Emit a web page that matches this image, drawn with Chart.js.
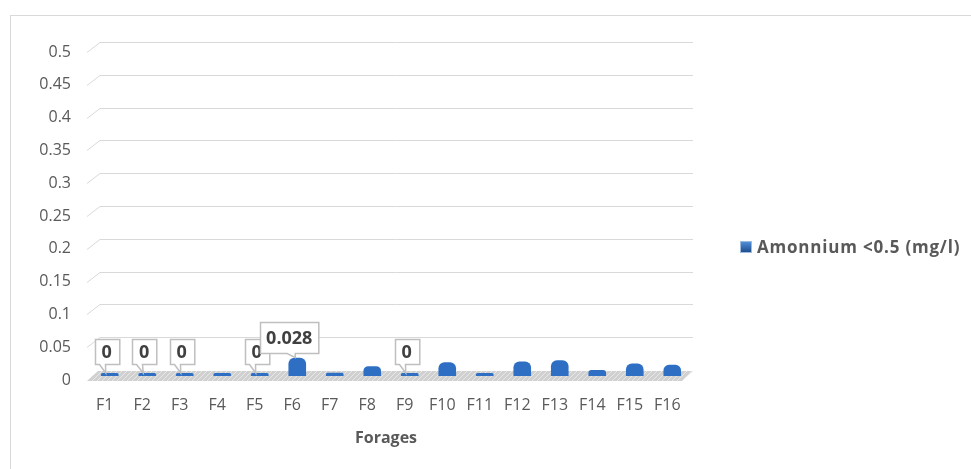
<!DOCTYPE html>
<html>
<head>
<meta charset="utf-8">
<script src="https://cdn.jsdelivr.net/npm/chart.js@4"></script>
<style>
    html, body { margin: 0; padding: 0; background: #fff; }
    #wrap { position: relative; width: 971px; height: 469px; overflow: hidden; }
    #frame { position: absolute; left: 10px; top: 15px; width: 980px; height: 480px;
             border-left: 1px solid #d9d9d9; border-top: 1px solid #d9d9d9; }
    canvas { position: absolute; left: 0; top: 0; }
    #legend { position: absolute; left: 740px; top: 235px; font: bold 17px 'Open Sans', sans-serif;
              letter-spacing: 0.8px; color: #595959; white-space: nowrap; display: flex; align-items: center; }
    #legend span.box { display: inline-block; width: 10px; height: 10px; margin-right: 5px;
              background: linear-gradient(#4f8ed8, #1f4e8c); border: 1px solid #9dbbe0; }
</style>
</head>
<body>
<div id="wrap">
    <div id="frame"></div>
    <canvas id="c" width="971" height="469"></canvas>
    <div id="legend"><span class="box"></span>Amonnium &lt;0.5 (mg/l)</div>
</div>
<script>
// Données
const forages = ['F1', 'F2', 'F3', 'F4', 'F5', 'F6', 'F7', 'F8',
                 'F9', 'F10', 'F11', 'F12', 'F13', 'F14', 'F15', 'F16'];
const amonnium = [0, 0, 0, 0.003, 0, 0.028, 0.005, 0.015,
                  0, 0.021, 0.004, 0.022, 0.024, 0.009, 0.019, 0.017];
const labelledPoints = [0, 1, 2, 4, 5, 8];
const seriesName = 'Amonnium <0.5 (mg/l)';
const axisTitle = 'Forages';

const FONT = "'Open Sans', sans-serif";
const GREY = '#595959';

// murs 3D: lignes de grille avec petite diagonale à gauche
const wallPlugin = {
    id: 'wall',
    beforeDatasetsDraw(chart) {
        const { ctx, chartArea } = chart;
        const y = chart.scales.y;
        ctx.save();
        ctx.strokeStyle = '#d9d9d9';
        ctx.lineWidth = 1;
        y.ticks.forEach(t => {
            if (t.value === 0) return;
            const py = Math.round(y.getPixelForValue(t.value)) + 0.5;
            ctx.beginPath();
            ctx.moveTo(chartArea.left + 1, py);
            ctx.lineTo(chartArea.left + 14, py - 10);
            ctx.lineTo(chartArea.right + 7, py - 10);
            ctx.stroke();
        });
        // plancher gris
        const y0 = y.getPixelForValue(0) + 1;
        const l = chartArea.left + 1, r = chartArea.right - 4;
        ctx.beginPath();
        ctx.moveTo(l, y0);
        ctx.lineTo(r, y0);
        ctx.lineTo(r + 11, y0 - 10);
        ctx.lineTo(l + 11, y0 - 10);
        ctx.closePath();
        ctx.fillStyle = '#d0d0d0';
        ctx.fill();
        ctx.clip();
        ctx.strokeStyle = '#e8e8e8';
        for (let x = l - 20; x < r + 20; x += 5) {
            ctx.beginPath();
            ctx.moveTo(x, y0);
            ctx.lineTo(x + 10, y0 - 10);
            ctx.stroke();
        }
        ctx.restore();
    },
    beforeDatasetDraw(chart) {
        chart.ctx.save();
        chart.ctx.translate(5, -4);
    },
    afterDatasetDraw(chart) {
        chart.ctx.restore();
    }
};

// étiquettes de données en bulle
const calloutPlugin = {
    id: 'callout',
    afterDatasetsDraw(chart) {
        const { ctx } = chart;
        const meta = chart.getDatasetMeta(0);
        ctx.save();
        ctx.font = 'bold 18px ' + FONT;
        ctx.textAlign = 'center';
        ctx.textBaseline = 'middle';
        labelledPoints.forEach(i => {
            const bar = meta.data[i];
            const v = amonnium[i];
            const txt = String(v);
            const w = ctx.measureText(txt).width + (v > 0 ? 12 : 14);
            const h = v > 0 ? 31 : 25;
            const cx = v > 0 ? bar.x - 3 : bar.x + 2;
            const bottom = v > 0 ? bar.y - 9 : bar.y - 13;
            const left = Math.round(cx - w / 2) + 0.5, top = Math.round(bottom - h) + 0.5;
            const b = top + h;
            const tipX = bar.x + (v > 0 ? 3 : 1), tipY = bar.y - 4;
            ctx.beginPath();
            ctx.moveTo(left, top);
            ctx.lineTo(left + w, top);
            ctx.lineTo(left + w, b);
            if (v > 0) {
                ctx.lineTo(cx + 6, b);
                ctx.lineTo(tipX, tipY);
                ctx.lineTo(cx - 2, b);
            } else {
                ctx.lineTo(left + 10, b);
                ctx.lineTo(tipX, tipY);
                ctx.lineTo(left + 4, b);
            }
            ctx.lineTo(left, b);
            ctx.closePath();
            ctx.fillStyle = '#fff';
            ctx.fill();
            ctx.strokeStyle = '#bfbfbf';
            ctx.lineWidth = 1.5;
            ctx.stroke();
            ctx.fillStyle = '#404040';
            ctx.fillText(txt, cx, top + h / 2 + 1);
        });
        ctx.restore();
    }
};

function barColor(context) {
    const el = context.element;
    if (!el || !Number.isFinite(el.x)) return '#2e6fc4';
    const w = 17;
    const g = context.chart.ctx.createLinearGradient(el.x - w / 2, 0, el.x + w / 2, 0);
    g.addColorStop(0, '#2a62ad');
    g.addColorStop(0.45, '#3b7fd4');
    g.addColorStop(1, '#1d4f92');
    return g;
}

const ctx = document.getElementById('c').getContext('2d');
new Chart(ctx, {
    type: 'bar',
    data: {
        labels: forages,
        datasets: [{
            label: seriesName,
            data: amonnium,
            backgroundColor: barColor,
            borderRadius: { topLeft: 6, topRight: 6 },
            borderSkipped: 'bottom',
            minBarLength: 3,
            barPercentage: 0.47,
            categoryPercentage: 1
        }]
    },
    options: {
        responsive: false,
        animation: false,
        events: [],
        layout: { padding: { left: 0, right: 285, top: 52, bottom: 0 } },
        plugins: { legend: { display: false }, tooltip: { enabled: false } },
        scales: {
            x: {
                grid: { display: false, drawTicks: false },
                border: { display: false },
                ticks: { color: GREY, font: { family: FONT, size: 16 }, padding: 16 },
                title: { display: true, text: axisTitle, color: GREY,
                         font: { family: FONT, size: 16, weight: 'bold' },
                         padding: { top: 0, bottom: 21 } },
                afterFit(axis) { axis.height = 89; }
            },
            y: {
                min: 0, max: 0.5,
                grid: { display: false, drawTicks: false },
                border: { display: false },
                ticks: {
                    stepSize: 0.05, padding: 15, color: GREY,
                    font: { family: FONT, size: 16 },
                    callback: v => String(parseFloat(v.toFixed(2)))
                },
                afterFit(axis) { axis.width = 86; }
            }
        }
    },
    plugins: [wallPlugin, calloutPlugin]
});
</script>
</body>
</html>
